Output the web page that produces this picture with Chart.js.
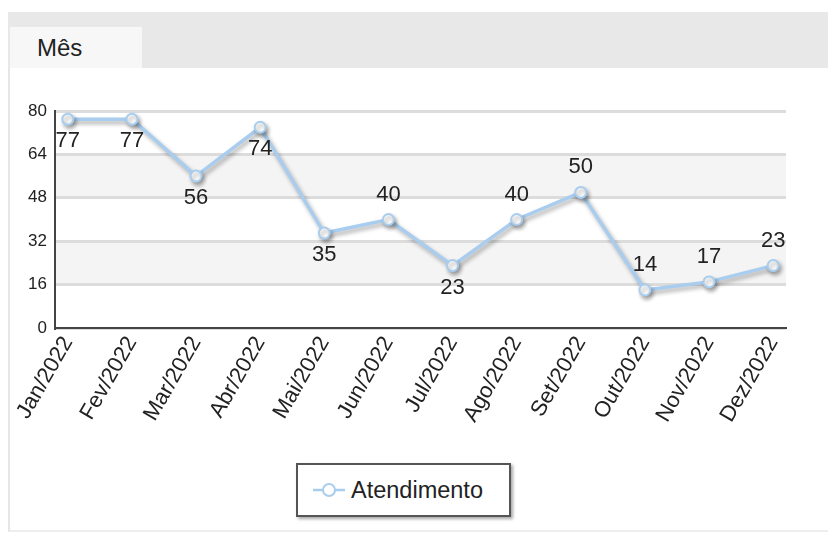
<!DOCTYPE html>
<html>
<head>
<meta charset="utf-8">
<script src="https://cdn.jsdelivr.net/npm/chart.js@4.4.1/dist/chart.umd.min.js"></script>
<style>
  body { margin: 0; background: #fff; font-family: "Liberation Sans", Arial, sans-serif; }
  #page { position: relative; width: 828px; height: 533px; overflow: hidden; }
  #topbar { position: absolute; left: 8px; top: 12px; width: 820px; height: 56px; background: #e8e8e8; }
  #tab { position: absolute; left: 10px; top: 27px; width: 132px; height: 41px; background: #f7f7f7;
         font-size: 24px; color: #222; line-height: 41px; text-indent: 27px; }
  #panel { position: absolute; left: 8px; top: 68px; width: 820px; height: 462px;
           border-left: 2px solid #e6e6e6; border-bottom: 2px solid #eee; }
  #wrap { position: absolute; left: 9px; top: 68px; width: 819px; height: 385px; }
  #legend { position: absolute; left: 296px; top: 463px; width: 211px; height: 50px;
            border: 2px solid #555; background: #fff; box-shadow: 2px 2px 3px rgba(0,0,0,0.35);
            display: flex; align-items: center; font-size: 23.5px; color: #222; }
  #legend svg { margin-left: 15px; margin-right: 6px; }
</style>
</head>
<body>
<div id="page">
  <div id="topbar"></div>
  <div id="tab">Mês</div>
  <div id="panel"></div>
  <div id="wrap"><canvas id="chart"></canvas></div>
  <div id="legend"></div>
</div>
<script>
// chart data
const months = ["Jan/2022", "Fev/2022", "Mar/2022", "Abr/2022", "Mai/2022", "Jun/2022",
                "Jul/2022", "Ago/2022", "Set/2022", "Out/2022", "Nov/2022", "Dez/2022"];
const atendimento = [77, 77, 56, 74, 35, 40, 23, 40, 50, 14, 17, 23];
const labelSide = ["below", "below", "below", "below", "below", "above",
                   "below", "above", "above", "above", "above", "above"];
const yTicks = [0, 16, 32, 48, 64, 80];

const LINE_COLOR = "#a8cdee";
const FONT = "'Liberation Sans', Arial, sans-serif";

// alternate shaded bands behind the grid
const bandsPlugin = {
  id: "bands",
  beforeDraw(chart) {
    const ctx = chart.ctx, y = chart.scales.y, area = chart.chartArea;
    ctx.save();
    ctx.fillStyle = "#f4f4f4";
    for (let i = 1; i < yTicks.length - 1; i += 2) {
      const top = y.getPixelForValue(yTicks[i + 1]);
      const bot = y.getPixelForValue(yTicks[i]);
      ctx.fillRect(area.left, top, area.right - area.left, bot - top);
    }
    ctx.restore();
  }
};

// drop shadow under the line
const shadowPlugin = {
  id: "shadow",
  beforeDatasetDraw(chart) {
    const ctx = chart.ctx;
    ctx.save();
    ctx.shadowColor = "rgba(0,0,0,0.33)";
    ctx.shadowBlur = 4;
    ctx.shadowOffsetX = 2;
    ctx.shadowOffsetY = 3;
  },
  afterDatasetDraw(chart) {
    chart.ctx.restore();
  }
};

// value labels
const valuePlugin = {
  id: "values",
  afterDatasetsDraw(chart) {
    const ctx = chart.ctx;
    const meta = chart.getDatasetMeta(0);
    ctx.save();
    ctx.font = "22px " + FONT;
    ctx.fillStyle = "#222";
    ctx.textAlign = "center";
    ctx.textBaseline = "middle";
    meta.data.forEach(function(pt, i) {
      const dy = labelSide[i] === "above" ? -25 : 22;
      ctx.fillText(String(atendimento[i]), pt.x, pt.y + dy);
    });
    ctx.restore();
  }
};

const ctx = document.getElementById("chart").getContext("2d");
const chart = new Chart(ctx, {
  type: "line",
  data: {
    datasets: [{
      label: "Atendimento",
      data: atendimento.map(function(v, i) { return {x: i, y: v}; }),
      borderColor: LINE_COLOR,
      borderWidth: 3.5,
      pointRadius: 5.5,
      pointBorderWidth: 2,
      pointBackgroundColor: "#fff",
      pointBorderColor: LINE_COLOR,
      tension: 0
    }]
  },
  options: {
    responsive: true,
    maintainAspectRatio: false,
    animation: false,
    layout: { padding: { top: 43, right: 42, left: 0, bottom: 0 } },
    scales: {
      x: {
        type: "linear",
        min: -0.2,
        max: 11.2,
        afterBuildTicks: function(scale) {
          scale.ticks = months.map(function(m, i) { return {value: i}; });
        },
        afterFit: function(scale) { scale.height = 125; },
        grid: { display: false, drawTicks: false },
        border: { color: "#444", width: 2 },
        ticks: {
          autoSkip: false,
          minRotation: 60,
          maxRotation: 60,
          padding: 4,
          color: "#222",
          font: { family: FONT, size: 22 },
          callback: function(v) { return months[v]; }
        }
      },
      y: {
        min: 0,
        max: 80,
        afterBuildTicks: function(scale) {
          scale.ticks = yTicks.map(function(v) { return {value: v}; });
        },
        afterFit: function(scale) { scale.width = 46; },
        grid: { color: "#dcdcdc", lineWidth: 3, drawTicks: false },
        border: { color: "#444", width: 2 },
        ticks: {
          padding: 8,
          color: "#222",
          font: { family: FONT, size: 17 }
        }
      }
    },
    plugins: {
      legend: { display: false },
      tooltip: { enabled: false }
    }
  },
  plugins: [bandsPlugin, shadowPlugin, valuePlugin]
});

// html legend
const lg = document.getElementById("legend");
lg.innerHTML = '<svg width="32" height="16"><line x1="0" y1="8" x2="32" y2="8" stroke="' + LINE_COLOR +
  '" stroke-width="2.5"/><circle cx="16" cy="8" r="6" fill="#fff" stroke="' + LINE_COLOR +
  '" stroke-width="2"/></svg><span>' + chart.data.datasets[0].label + '</span>';
</script>
</body>
</html>
